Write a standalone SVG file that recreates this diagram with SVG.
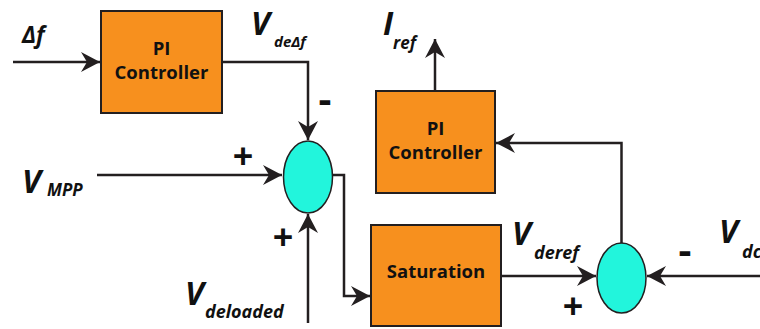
<svg xmlns="http://www.w3.org/2000/svg" width="760" height="329" viewBox="0 0 760 329">
<defs>
<style>
.box{fill:#F7901E;stroke:#231F20;stroke-width:2}
.sum{fill:#22F5DC;stroke:#231F20;stroke-width:1.5}
.ln{fill:none;stroke:#231F20;stroke-width:2.5;marker-end:url(#ah)}
.bt{font-family:"Open Sans","Liberation Sans",sans-serif;font-weight:bold;font-size:18.5px;fill:#111;text-anchor:middle}
.lb{font-family:"Open Sans","Liberation Sans",sans-serif;font-weight:bold;font-style:italic;fill:#111}
.V{font-size:32px}
.s{font-size:17px}
.sg{font-family:"Open Sans","Liberation Sans",sans-serif;font-weight:bold;fill:#111;text-anchor:middle}
</style>
<marker id="ah" markerUnits="userSpaceOnUse" markerWidth="22" markerHeight="22" viewBox="-20 -11 22 22" refX="0" refY="0" orient="auto">
<path d="M0,0 L-19,-10 L-13,0 L-19,10 Z" fill="#231F20"/>
</marker>
</defs>
<g id="connectors">
<path class="ln" d="M13,62 H100"/>
<path class="ln" d="M222,62 H308 V140"/>
<path class="ln" d="M97,175 H282"/>
<path class="ln" d="M308,323 V214"/>
<path class="ln" d="M332,175 H344 V296 H370"/>
<path class="ln" d="M501,276 H596"/>
<path class="ln" d="M760,276 H647"/>
<path class="ln" d="M621.5,243 V143 H496"/>
<path class="ln" d="M435,91 V39"/>
</g>
<g id="pi1">
<rect class="box" x="101" y="11" width="121" height="102"/>
<text class="bt" x="161.5" y="55">PI</text>
<text class="bt" x="161.5" y="79">Controller</text>
</g>
<g id="pi2">
<rect class="box" x="376" y="91" width="119" height="102"/>
<text class="bt" x="435.5" y="135">PI</text>
<text class="bt" x="435.5" y="159">Controller</text>
</g>
<g id="sat">
<rect class="box" x="371" y="225" width="130" height="101"/>
<text class="bt" x="436" y="278">Saturation</text>
</g>
<g id="sum1">
<ellipse class="sum" cx="308" cy="177" rx="24.5" ry="36"/>
</g>
<g id="sum2">
<ellipse class="sum" cx="621.5" cy="278" rx="24.5" ry="35"/>
</g>
<g id="labels">
<text class="lb" x="22" y="43" font-size="23">Δf</text>
<text class="lb V" x="251" y="35">V</text><text class="lb" x="274" y="47" font-size="15">deΔf</text>
<text class="lb V" x="22" y="193">V</text><text class="lb s" x="47" y="196">MPP</text>
<text class="lb V" x="185" y="305">V</text><text class="lb" x="205" y="318" font-size="18">deloaded</text>
<text class="lb V" x="512" y="245">V</text><text class="lb" x="534" y="259" font-size="18">deref</text>
<text class="lb V" x="719" y="243">V</text><text class="lb" x="742" y="258" font-size="18">dc</text>
<text class="lb V" x="383" y="35">I</text><text class="lb s" x="393" y="49">ref</text>
<text class="sg" x="243" y="169" font-size="36">+</text>
<text class="sg" x="283" y="250" font-size="36">+</text>
<text class="sg" x="573" y="319" font-size="36">+</text>
<text class="sg" x="325" y="113" font-size="40">-</text>
<text class="sg" x="685" y="264" font-size="40">-</text>
</g>
</svg>
